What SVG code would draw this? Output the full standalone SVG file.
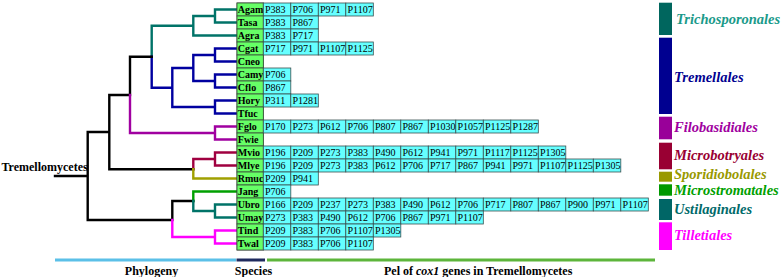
<svg xmlns="http://www.w3.org/2000/svg" width="783" height="277" viewBox="0 0 783 277">
<style>
.t{fill:none;stroke-width:2.4;stroke-linejoin:miter;stroke-linecap:square}
.k{stroke:#000}.tl{stroke:#007368}.bl{stroke:#0000A0}.pu{stroke:#A000A0}.cr{stroke:#A00040}.ol{stroke:#A0A000}.gr{stroke:#00A000}.mg{stroke:#FF00FF}
.sp rect{fill:#66FF66;stroke:#3a4a3a;stroke-width:0.8}
.sp text{font-family:"Liberation Serif",serif;font-weight:bold;font-size:10px;fill:#000}
.c rect{fill:#66FFFF;stroke:#3a5050;stroke-width:0.8}
.c text{font-family:"Liberation Serif",serif;font-size:10px;fill:#000}
.lab{font-family:"Liberation Serif",serif;font-weight:bold;font-style:italic;font-size:14.5px}
.bt{font-family:"Liberation Serif",serif;font-weight:bold;font-size:12px;fill:#000}
</style>
<rect width="783" height="277" fill="#fff"/>
<g id="connectors">
<path class="t tl" d="M237 9.5H215V22.5H237M215 16H193.3V35.5H237M193.3 25.7H151.7V56.7"/>
<path class="t bl" d="M151.7 56.7V87.7H172.3M237 48.5H215V61.5H237M237 74.5H215V87.5H237M215 55H193.3V81H215M193.3 68H172.3V107H215M237 100.5H215V113.5H237"/>
<path class="t k" d="M151.7 56.7H130V95M130 95H109.3V169.3H193.3M109.3 132H87.7V220H172.3V201H193.3M55 176H87.7"/>
<path class="t pu" d="M130 95V133H215M237 126.5H215V139.5H237"/>
<path class="t cr" d="M193.3 169.3V159H215M237 152.5H215V165.5H237"/>
<path class="t ol" d="M193.3 169.3V178.5H237"/>
<path class="t gr" d="M193.3 201V191.5H237"/>
<path class="t tl" d="M193.3 201V211H215M237 204.5H215V217.5H237"/>
<path class="t mg" d="M172.3 220V237H215M237 230.5H215V243.5H237"/>
</g>
<text class="bt" x="1.5" y="170.5">Tremellomycetes</text>
<g id="species" class="sp">
<rect x="237" y="3" width="26.3" height="247"/>
<g id="Agam"><rect x="237" y="3" width="26.3" height="13"/><text x="237.8" y="13">Agam</text></g>
<g id="Tasa"><rect x="237" y="16" width="26.3" height="13"/><text x="237.8" y="26">Tasa</text></g>
<g id="Agra"><rect x="237" y="29" width="26.3" height="13"/><text x="237.8" y="39">Agra</text></g>
<g id="Cgat"><rect x="237" y="42" width="26.3" height="13"/><text x="237.8" y="52">Cgat</text></g>
<g id="Cneo"><rect x="237" y="55" width="26.3" height="13"/><text x="237.8" y="65">Cneo</text></g>
<g id="Camy"><rect x="237" y="68" width="26.3" height="13"/><text x="237.8" y="78">Camy</text></g>
<g id="Cflo"><rect x="237" y="81" width="26.3" height="13"/><text x="237.8" y="91">Cflo</text></g>
<g id="Hory"><rect x="237" y="94" width="26.3" height="13"/><text x="237.8" y="104">Hory</text></g>
<g id="Tfuc"><rect x="237" y="107" width="26.3" height="13"/><text x="237.8" y="117">Tfuc</text></g>
<g id="Fglo"><rect x="237" y="120" width="26.3" height="13"/><text x="237.8" y="130">Fglo</text></g>
<g id="Fwie"><rect x="237" y="133" width="26.3" height="13"/><text x="237.8" y="143">Fwie</text></g>
<g id="Mvio"><rect x="237" y="146" width="26.3" height="13"/><text x="237.8" y="156">Mvio</text></g>
<g id="Mlye"><rect x="237" y="159" width="26.3" height="13"/><text x="237.8" y="169">Mlye</text></g>
<g id="Rmuc"><rect x="237" y="172" width="26.3" height="13"/><text x="237.8" y="182">Rmuc</text></g>
<g id="Jang"><rect x="237" y="185" width="26.3" height="13"/><text x="237.8" y="195">Jang</text></g>
<g id="Ubro"><rect x="237" y="198" width="26.3" height="13"/><text x="237.8" y="208">Ubro</text></g>
<g id="Umay"><rect x="237" y="211" width="26.3" height="13"/><text x="237.8" y="221">Umay</text></g>
<g id="Tind"><rect x="237" y="224" width="26.3" height="13"/><text x="237.8" y="234">Tind</text></g>
<g id="Twal"><rect x="237" y="237" width="26.3" height="13"/><text x="237.8" y="247">Twal</text></g>
</g>
<g id="cells" class="c">
<g id="r-Agam"><rect x="263.3" y="3" width="27.5" height="13"/><rect x="290.8" y="3" width="27.5" height="13"/><rect x="318.3" y="3" width="27.5" height="13"/><rect x="345.8" y="3" width="27.5" height="13"/>
<text x="265" y="13">P383</text><text x="292.5" y="13">P706</text><text x="320" y="13">P971</text><text x="347.5" y="13">P1107</text></g>
<g id="r-Tasa"><rect x="263.3" y="16" width="27.5" height="13"/><rect x="290.8" y="16" width="27.5" height="13"/>
<text x="265" y="26">P383</text><text x="292.5" y="26">P867</text></g>
<g id="r-Agra"><rect x="263.3" y="29" width="27.5" height="13"/><rect x="290.8" y="29" width="27.5" height="13"/>
<text x="265" y="39">P383</text><text x="292.5" y="39">P717</text></g>
<g id="r-Cgat"><rect x="263.3" y="42" width="27.5" height="13"/><rect x="290.8" y="42" width="27.5" height="13"/><rect x="318.3" y="42" width="27.5" height="13"/><rect x="345.8" y="42" width="27.5" height="13"/>
<text x="265" y="52">P717</text><text x="292.5" y="52">P971</text><text x="320" y="52">P1107</text><text x="347.5" y="52">P1125</text></g>
<g id="r-Camy"><rect x="263.3" y="68" width="27.5" height="13"/><text x="265" y="78">P706</text></g>
<g id="r-Cflo"><rect x="263.3" y="81" width="27.5" height="13"/><text x="265" y="91">P867</text></g>
<g id="r-Hory"><rect x="263.3" y="94" width="27.5" height="13"/><rect x="290.8" y="94" width="27.5" height="13"/>
<text x="265" y="104">P311</text><text x="292.5" y="104">P1281</text></g>
<g id="r-Fglo">
<rect x="263.3" y="120" width="27.5" height="13"/><rect x="290.8" y="120" width="27.5" height="13"/><rect x="318.3" y="120" width="27.5" height="13"/><rect x="345.8" y="120" width="27.5" height="13"/><rect x="373.3" y="120" width="27.5" height="13"/><rect x="400.8" y="120" width="27.5" height="13"/><rect x="428.3" y="120" width="27.5" height="13"/><rect x="455.8" y="120" width="27.5" height="13"/><rect x="483.3" y="120" width="27.5" height="13"/><rect x="510.8" y="120" width="27.5" height="13"/>
<text x="265" y="130">P170</text><text x="292.5" y="130">P273</text><text x="320" y="130">P612</text><text x="347.5" y="130">P706</text><text x="375" y="130">P807</text><text x="402.5" y="130">P867</text><text x="430" y="130">P1030</text><text x="457.5" y="130">P1057</text><text x="485" y="130">P1125</text><text x="512.5" y="130">P1287</text></g>
<g id="r-Mvio">
<rect x="263.3" y="146" width="27.5" height="13"/><rect x="290.8" y="146" width="27.5" height="13"/><rect x="318.3" y="146" width="27.5" height="13"/><rect x="345.8" y="146" width="27.5" height="13"/><rect x="373.3" y="146" width="27.5" height="13"/><rect x="400.8" y="146" width="27.5" height="13"/><rect x="428.3" y="146" width="27.5" height="13"/><rect x="455.8" y="146" width="27.5" height="13"/><rect x="483.3" y="146" width="27.5" height="13"/><rect x="510.8" y="146" width="27.5" height="13"/><rect x="538.3" y="146" width="27.5" height="13"/>
<text x="265" y="156">P196</text><text x="292.5" y="156">P209</text><text x="320" y="156">P273</text><text x="347.5" y="156">P383</text><text x="375" y="156">P490</text><text x="402.5" y="156">P612</text><text x="430" y="156">P941</text><text x="457.5" y="156">P971</text><text x="485" y="156">P1117</text><text x="512.5" y="156">P1125</text><text x="540" y="156">P1305</text></g>
<g id="r-Mlye">
<rect x="263.3" y="159" width="27.5" height="13"/><rect x="290.8" y="159" width="27.5" height="13"/><rect x="318.3" y="159" width="27.5" height="13"/><rect x="345.8" y="159" width="27.5" height="13"/><rect x="373.3" y="159" width="27.5" height="13"/><rect x="400.8" y="159" width="27.5" height="13"/><rect x="428.3" y="159" width="27.5" height="13"/><rect x="455.8" y="159" width="27.5" height="13"/><rect x="483.3" y="159" width="27.5" height="13"/><rect x="510.8" y="159" width="27.5" height="13"/><rect x="538.3" y="159" width="27.5" height="13"/><rect x="565.8" y="159" width="27.5" height="13"/><rect x="593.3" y="159" width="27.5" height="13"/>
<text x="265" y="169">P196</text><text x="292.5" y="169">P209</text><text x="320" y="169">P273</text><text x="347.5" y="169">P383</text><text x="375" y="169">P612</text><text x="402.5" y="169">P706</text><text x="430" y="169">P717</text><text x="457.5" y="169">P867</text><text x="485" y="169">P941</text><text x="512.5" y="169">P971</text><text x="540" y="169">P1107</text><text x="567.5" y="169">P1125</text><text x="595" y="169">P1305</text></g>
<g id="r-Rmuc"><rect x="263.3" y="172" width="27.5" height="13"/><rect x="290.8" y="172" width="27.5" height="13"/>
<text x="265" y="182">P209</text><text x="292.5" y="182">P941</text></g>
<g id="r-Jang"><rect x="263.3" y="185" width="27.5" height="13"/><text x="265" y="195">P706</text></g>
<g id="r-Ubro">
<rect x="263.3" y="198" width="27.5" height="13"/><rect x="290.8" y="198" width="27.5" height="13"/><rect x="318.3" y="198" width="27.5" height="13"/><rect x="345.8" y="198" width="27.5" height="13"/><rect x="373.3" y="198" width="27.5" height="13"/><rect x="400.8" y="198" width="27.5" height="13"/><rect x="428.3" y="198" width="27.5" height="13"/><rect x="455.8" y="198" width="27.5" height="13"/><rect x="483.3" y="198" width="27.5" height="13"/><rect x="510.8" y="198" width="27.5" height="13"/><rect x="538.3" y="198" width="27.5" height="13"/><rect x="565.8" y="198" width="27.5" height="13"/><rect x="593.3" y="198" width="27.5" height="13"/><rect x="620.8" y="198" width="27.5" height="13"/>
<text x="265" y="208">P166</text><text x="292.5" y="208">P209</text><text x="320" y="208">P237</text><text x="347.5" y="208">P273</text><text x="375" y="208">P383</text><text x="402.5" y="208">P490</text><text x="430" y="208">P612</text><text x="457.5" y="208">P706</text><text x="485" y="208">P717</text><text x="512.5" y="208">P807</text><text x="540" y="208">P867</text><text x="567.5" y="208">P900</text><text x="595" y="208">P971</text><text x="622.5" y="208">P1107</text></g>
<g id="r-Umay">
<rect x="263.3" y="211" width="27.5" height="13"/><rect x="290.8" y="211" width="27.5" height="13"/><rect x="318.3" y="211" width="27.5" height="13"/><rect x="345.8" y="211" width="27.5" height="13"/><rect x="373.3" y="211" width="27.5" height="13"/><rect x="400.8" y="211" width="27.5" height="13"/><rect x="428.3" y="211" width="27.5" height="13"/><rect x="455.8" y="211" width="27.5" height="13"/>
<text x="265" y="221">P273</text><text x="292.5" y="221">P383</text><text x="320" y="221">P490</text><text x="347.5" y="221">P612</text><text x="375" y="221">P706</text><text x="402.5" y="221">P867</text><text x="430" y="221">P971</text><text x="457.5" y="221">P1107</text></g>
<g id="r-Tind">
<rect x="263.3" y="224" width="27.5" height="13"/><rect x="290.8" y="224" width="27.5" height="13"/><rect x="318.3" y="224" width="27.5" height="13"/><rect x="345.8" y="224" width="27.5" height="13"/><rect x="373.3" y="224" width="27.5" height="13"/>
<text x="265" y="234">P209</text><text x="292.5" y="234">P383</text><text x="320" y="234">P706</text><text x="347.5" y="234">P1107</text><text x="375" y="234">P1305</text></g>
<g id="r-Twal">
<rect x="263.3" y="237" width="27.5" height="13"/><rect x="290.8" y="237" width="27.5" height="13"/><rect x="318.3" y="237" width="27.5" height="13"/><rect x="345.8" y="237" width="27.5" height="13"/>
<text x="265" y="247">P209</text><text x="292.5" y="247">P383</text><text x="320" y="247">P706</text><text x="347.5" y="247">P1107</text></g>
</g>
<g id="orders">
<g id="Trichosporonales"><rect x="659" y="2.7" width="13" height="32.3" fill="#00665E"/><text class="lab" x="676" y="24" fill="#1A9A8A">Trichosporonales</text></g>
<g id="Tremellales"><rect x="659" y="37.7" width="13" height="76.3" fill="#000090"/><text class="lab" x="674" y="81.5" fill="#000090">Tremellales</text></g>
<g id="Filobasidiales"><rect x="659" y="116.7" width="13" height="22.6" fill="#990099"/><text class="lab" x="674" y="132" fill="#A000A0">Filobasidiales</text></g>
<g id="Microbotryales"><rect x="659" y="142.7" width="13" height="26.6" fill="#990033"/><text class="lab" x="674" y="159.5" fill="#990033">Microbotryales</text></g>
<g id="Sporidiobolales"><rect x="659" y="171.7" width="13" height="10" fill="#999900"/><text class="lab" x="674" y="179" fill="#999900" font-size="13.5">Sporidiobolales</text></g>
<g id="Microstromatales"><rect x="659" y="184.3" width="13" height="11.4" fill="#009900"/><text class="lab" x="674" y="194.5" fill="#00A000" font-size="13.5">Microstromatales</text></g>
<g id="Ustilaginales"><rect x="659" y="199" width="13" height="21" fill="#006666"/><text class="lab" x="674" y="213.5" fill="#006A6A">Ustilaginales</text></g>
<g id="Tilletiales"><rect x="659" y="222.3" width="13" height="27.7" fill="#FF00FF"/><text class="lab" x="674" y="239.5" fill="#FF00FF">Tilletiales</text></g>
</g>
<g id="legend">
<line x1="55" y1="260" x2="236" y2="260" stroke="#5BC0E8" stroke-width="3"/>
<line x1="236.5" y1="260" x2="265" y2="260" stroke="#1F2A5E" stroke-width="3"/>
<line x1="267" y1="260" x2="655" y2="260" stroke="#5DB53B" stroke-width="3"/>
<text class="bt" x="151.5" y="274.5" text-anchor="middle">Phylogeny</text>
<text class="bt" x="253.5" y="274.5" text-anchor="middle">Species</text>
<text class="bt" x="384" y="274.5">Pel of <tspan font-style="italic">cox1</tspan> genes in Tremellomycetes</text>
</g>
</svg>
